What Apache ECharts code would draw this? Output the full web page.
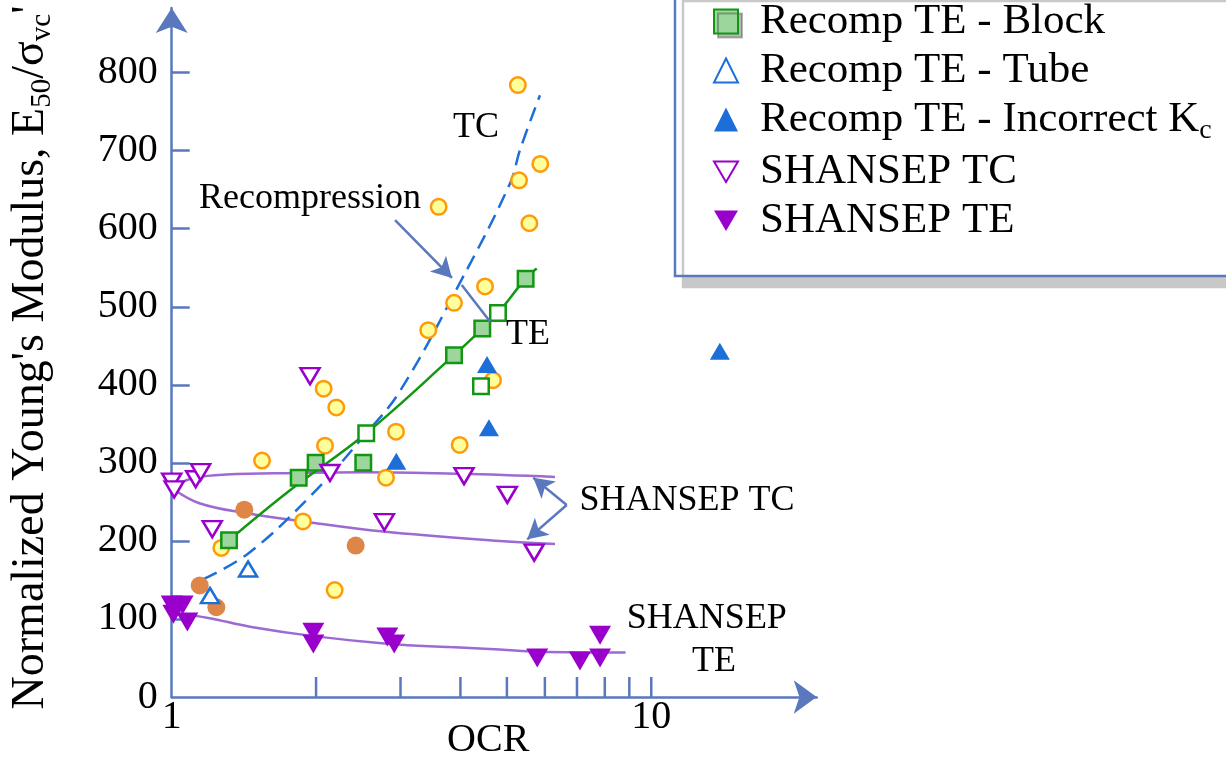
<!DOCTYPE html>
<html>
<head>
<meta charset="utf-8">
<script src="https://cdn.jsdelivr.net/npm/echarts@6/dist/echarts.min.js"></script>
<style>html,body{margin:0;padding:0;background:#fff}#c{width:1226px;height:761px}</style>
</head>
<body>
<div id="c"></div>
<script>
// ---------- data ----------
const xTickLabels = [1, 10];
const xMinorTicks = [2, 3, 4, 5, 6, 7, 8, 9, 10];
const yTickLabels = [0, 100, 200, 300, 400, 500, 600, 700, 800];
const yTickMarks = [100, 200, 300, 400, 500, 600, 700, 800];

const recompTCCircles = [[1.269,191],[1.543,303],[1.878,225],[2.074,395],[2.088,322],[2.187,137],[2.204,371],[2.798,281],[2.936,340],[3.428,470],[3.603,628],[3.879,505],[3.985,323],[4.502,526],[4.677,406],[5.27,784],[5.30,662],[5.57,607],[5.87,683]];
const otherCircles = [[1.144,143],[1.239,115],[1.417,240],[2.419,194]];
const blockFilled = [[1.317,201],[1.840,281],[1.996,300],[2.509,300],[3.879,438],[4.443,472],[5.47,536]];
const blockOpen = [[2.545,338],[4.415,398],[4.79,492]];
const tubeOpen = [[1.202,130],[1.443,164]];
const incorrectKc = [[2.94,302],[4.545,426],[4.587,345],[13.9,443]];
const shansepTC = [[1.0,276],[1.012,266],[1.122,279],[1.149,288],[1.215,215],[1.943,411],[2.138,287],[2.776,224],[4.07,283],[5.01,259],[5.70,185]];
const shansepTE = [[1.0,118],[1.054,118],[1.008,106],[1.078,96],[1.974,83],[1.974,68],[2.816,77],[2.911,68],[5.784,50],[7.10,46],[7.82,79],[7.82,50]];

const tcTrend = [[1.164,151],[1.444,184],[1.943,257],[2.545,338],[2.992,392],[3.985,530],[5.075,658],[5.325,701],[5.86,771]];
const teTrend = [[1.317,201],[1.765,265],[2.545,338],[3.879,438],[4.443,472],[4.79,492],[5.47,536],[5.77,549]];
const shansepTCUpper = [[1.02,272],[1.12,281],[1.3,285],[1.8,287],[2.5,288],[4,286],[6.3,282]];
const shansepTCLower = [[1.016,265],[1.146,248],[1.417,236],[1.878,225],[2.76,212],[4.83,200],[6.3,196]];
const shansepTETrend = [[1.008,108],[1.2,101],[1.456,90],[1.974,78],[2.85,68],[3.8,64],[4.83,61],[5.78,58],[8.84,57]];

// ---------- annotation anchors (data coordinates) ----------
const annoTexts = [
  {text: 'TC', at: [4.311, 729]},
  {text: 'Recompression', at: [1.943, 639]},
  {text: 'TE', at: [5.533, 464]},
  {text: 'SHANSEP TC', at: [11.87, 252]},
  {text: 'SHANSEP', at: [13.06, 100]},
  {text: 'TE', at: [13.51, 46]}
];
const annoArrows = [
  [[2.922, 611], [3.841, 537]],
  [[6.663, 246], [5.675, 281]],
  [[6.663, 246], [5.513, 202]]
];
const annoArc = [[4.025, 528], [4.61, 481]];

// ---------- styles ----------
const FONT = "'Liberation Serif','Times New Roman',serif";
const AXIS = '#5a78bd';
const GREEN = '#129712', GREEN_FILL = '#9cd69c';
const ORANGE = '#ff9a0a', YELLOW = '#ffff9c';
const BROWN = '#dd8647';
const BLUE = '#1c6fd8';
const PURPLE = '#9a00cc';
const PURPLE_LINE = '#9c6ad2';
const DOWN = 'path://M0,0L20,0L10,17Z';

const chart = echarts.init(document.getElementById('c'));

function lineSeries(name, data, color, extra) {
  return Object.assign({
    name, type: 'line', data, smooth: 0.4, showSymbol: false, symbol: 'none',
    lineStyle: {color, width: 2.5}, z: 2, silent: true
  }, extra || {});
}

const option = {
  animation: false,
  backgroundColor: '#fff',
  grid: {left: 171.7, right: 409.3, top: 8, bottom: 64, containLabel: false, outerBoundsMode: 'none'},
  xAxis: {
    type: 'log', logBase: 10, min: 1, max: 22.13,
    axisLine: {show: true, onZero: false, symbol: ['none', 'arrow'], symbolSize: [25, 23], lineStyle: {color: AXIS, width: 2.5}},
    axisTick: {show: false}, minorTick: {show: false}, splitLine: {show: false},
    axisLabel: {fontFamily: FONT, fontSize: 40, color: '#000', margin: 0, showMaxLabel: false,
      formatter: v => xTickLabels.indexOf(Math.round(v)) >= 0 ? String(Math.round(v)) : ''},
    name: 'OCR', nameLocation: 'middle', nameGap: 23, nameMoveOverlap: false,
    nameTextStyle: {fontFamily: FONT, fontSize: 40, color: '#000', padding: [0, 12, 0, 0]}
  },
  yAxis: {
    type: 'value', min: 0, max: 882.8, interval: 100,
    axisLine: {show: true, onZero: false, symbol: ['none', 'arrow'], symbolSize: [24, 25], lineStyle: {color: AXIS, width: 2.5}},
    axisTick: {show: true, inside: true, length: 18, lineStyle: {color: AXIS, width: 2.5}, customValues: yTickMarks},
    axisLabel: {fontFamily: FONT, fontSize: 40, color: '#000', margin: 14, customValues: yTickLabels},
    splitLine: {show: false},
    name: "{n|Normalized Young's Modulus, E}{s|50}{n|/σ}{s|vc}{n|'}",
    nameLocation: 'middle', nameRotate: 90, nameGap: 115, nameMoveOverlap: false,
    nameTextStyle: {fontFamily: FONT, color: '#000', fontSize: 46, padding: [0, 10, 0, 0],
      rich: {
        n: {fontFamily: FONT, fontSize: 46, lineHeight: 52, color: '#000'},
        s: {fontFamily: FONT, fontSize: 29, lineHeight: 29, color: '#000', verticalAlign: 'bottom'}
      }}
  },
  legend: {
    orient: 'vertical', left: 713, top: 0, padding: 0, itemGap: 6,
    itemWidth: 24, itemHeight: 24, selectedMode: false, z: 20,
    data: [
      {name: 'Recomp TE - Block', itemStyle: {shadowColor: 'rgba(0,0,0,0.28)', shadowBlur: 0, shadowOffsetX: 4, shadowOffsetY: 4}},
      {name: 'Recomp TE - Tube'},
      {name: 'Recomp TE - Incorrect Kc'},
      {name: 'SHANSEP TC'},
      {name: 'SHANSEP TE'}
    ],
    formatter: function (name) {
      if (name === 'Recomp TE - Incorrect Kc') return '{sp| }{t|Recomp TE - Incorrect K}{s|c}';
      return '{sp| }{t|' + name + '}';
    },
    textStyle: {fontFamily: FONT, fontSize: 43, color: '#000',
      rich: {
        sp: {width: 17, fontSize: 10, lineHeight: 10},
        t: {fontFamily: FONT, fontSize: 43, lineHeight: 49.5, color: '#000'},
        s: {fontFamily: FONT, fontSize: 28, lineHeight: 28, color: '#000', verticalAlign: 'bottom'}
      }}
  },
  series: [
    lineSeries('SHANSEP TC upper', shansepTCUpper, PURPLE_LINE),
    lineSeries('SHANSEP TC lower', shansepTCLower, PURPLE_LINE),
    lineSeries('SHANSEP TE trend', shansepTETrend, PURPLE_LINE),
    lineSeries('TC trend', tcTrend, BLUE, {lineStyle: {color: BLUE, width: 2.5, type: [15, 8]}}),
    lineSeries('TE trend', teTrend, GREEN),
    {name: 'Recomp TC', type: 'scatter', data: recompTCCircles, symbol: 'circle', symbolSize: 15.5, z: 3,
      itemStyle: {color: YELLOW, borderColor: ORANGE, borderWidth: 2.5, opacity: 1}},
    {name: 'Other', type: 'scatter', data: otherCircles, symbol: 'circle', symbolSize: 18, z: 3,
      itemStyle: {color: BROWN, opacity: 1}},
    {name: 'Recomp TE - Block', type: 'scatter', data: blockFilled, symbol: 'rect', symbolSize: 15.5, z: 4,
      itemStyle: {color: GREEN_FILL, borderColor: GREEN, borderWidth: 2.5, opacity: 1}},
    {name: 'Recomp TE - Block open', type: 'scatter', data: blockOpen, symbol: 'rect', symbolSize: 15.5, z: 4,
      itemStyle: {color: '#fff', borderColor: GREEN, borderWidth: 2.5, opacity: 1}},
    {name: 'Recomp TE - Tube', type: 'scatter', data: tubeOpen, symbol: 'triangle', symbolSize: [18, 15], z: 4,
      itemStyle: {color: '#fff', borderColor: BLUE, borderWidth: 2.5, opacity: 1}},
    {name: 'Recomp TE - Incorrect Kc', type: 'scatter', data: incorrectKc, symbol: 'triangle', symbolSize: [20, 17], z: 4,
      itemStyle: {color: BLUE, opacity: 1}},
    {name: 'SHANSEP TC', type: 'scatter', data: shansepTC, symbol: DOWN, symbolSize: [19, 16], z: 4,
      itemStyle: {color: '#fff', borderColor: PURPLE, borderWidth: 2.5, opacity: 1}},
    {name: 'SHANSEP TE', type: 'scatter', data: shansepTE, symbol: DOWN, symbolSize: [22, 19], z: 4,
      itemStyle: {color: PURPLE, opacity: 1}},
    {name: 'x minor ticks', type: 'custom', silent: true, z: 1,
      data: xMinorTicks.map(v => [v, 0]),
      renderItem: function (params, api) {
        const p = api.coord([api.value(0), 0]);
        return {type: 'line', shape: {x1: p[0], y1: p[1], x2: p[0], y2: p[1] - 20},
          style: {stroke: AXIS, lineWidth: 2.5}};
      }},
    {name: 'annotations', type: 'line', data: [], silent: true, z: 5,
      markLine: {
        silent: true, animation: false, symbol: ['none', 'arrow'], symbolSize: [17, 20],
        label: {show: false}, emphasis: {disabled: true},
        lineStyle: {color: AXIS, width: 2.5, type: 'solid'},
        data: annoArrows.map(a => [{coord: a[0]}, {coord: a[1]}]).concat([[
          {coord: annoArc[0], symbol: 'none', lineStyle: {curveness: 0.35, color: AXIS, width: 2.5, type: 'solid'}},
          {coord: annoArc[1], symbol: 'none'}
        ]])
      }}
  ]
};
chart.setOption(option);

const graphics = [{
  type: 'rect', z: 5, silent: true,
  shape: {x: 675, y: -10, width: 600, height: 286},
  style: {fill: '#fff', stroke: AXIS, lineWidth: 2.5, shadowColor: '#c8c8c8', shadowBlur: 0, shadowOffsetX: 8, shadowOffsetY: 11}
}];
annoTexts.forEach(a => {
  const p = chart.convertToPixel({gridIndex: 0}, a.at);
  graphics.push({type: 'text', z: 6, silent: true, x: p[0], y: p[1],
    style: {text: a.text, fontFamily: FONT, fontSize: 36, fill: '#000', align: 'center', verticalAlign: 'middle'}});
});
chart.setOption({graphic: graphics});
</script>
</body>
</html>
